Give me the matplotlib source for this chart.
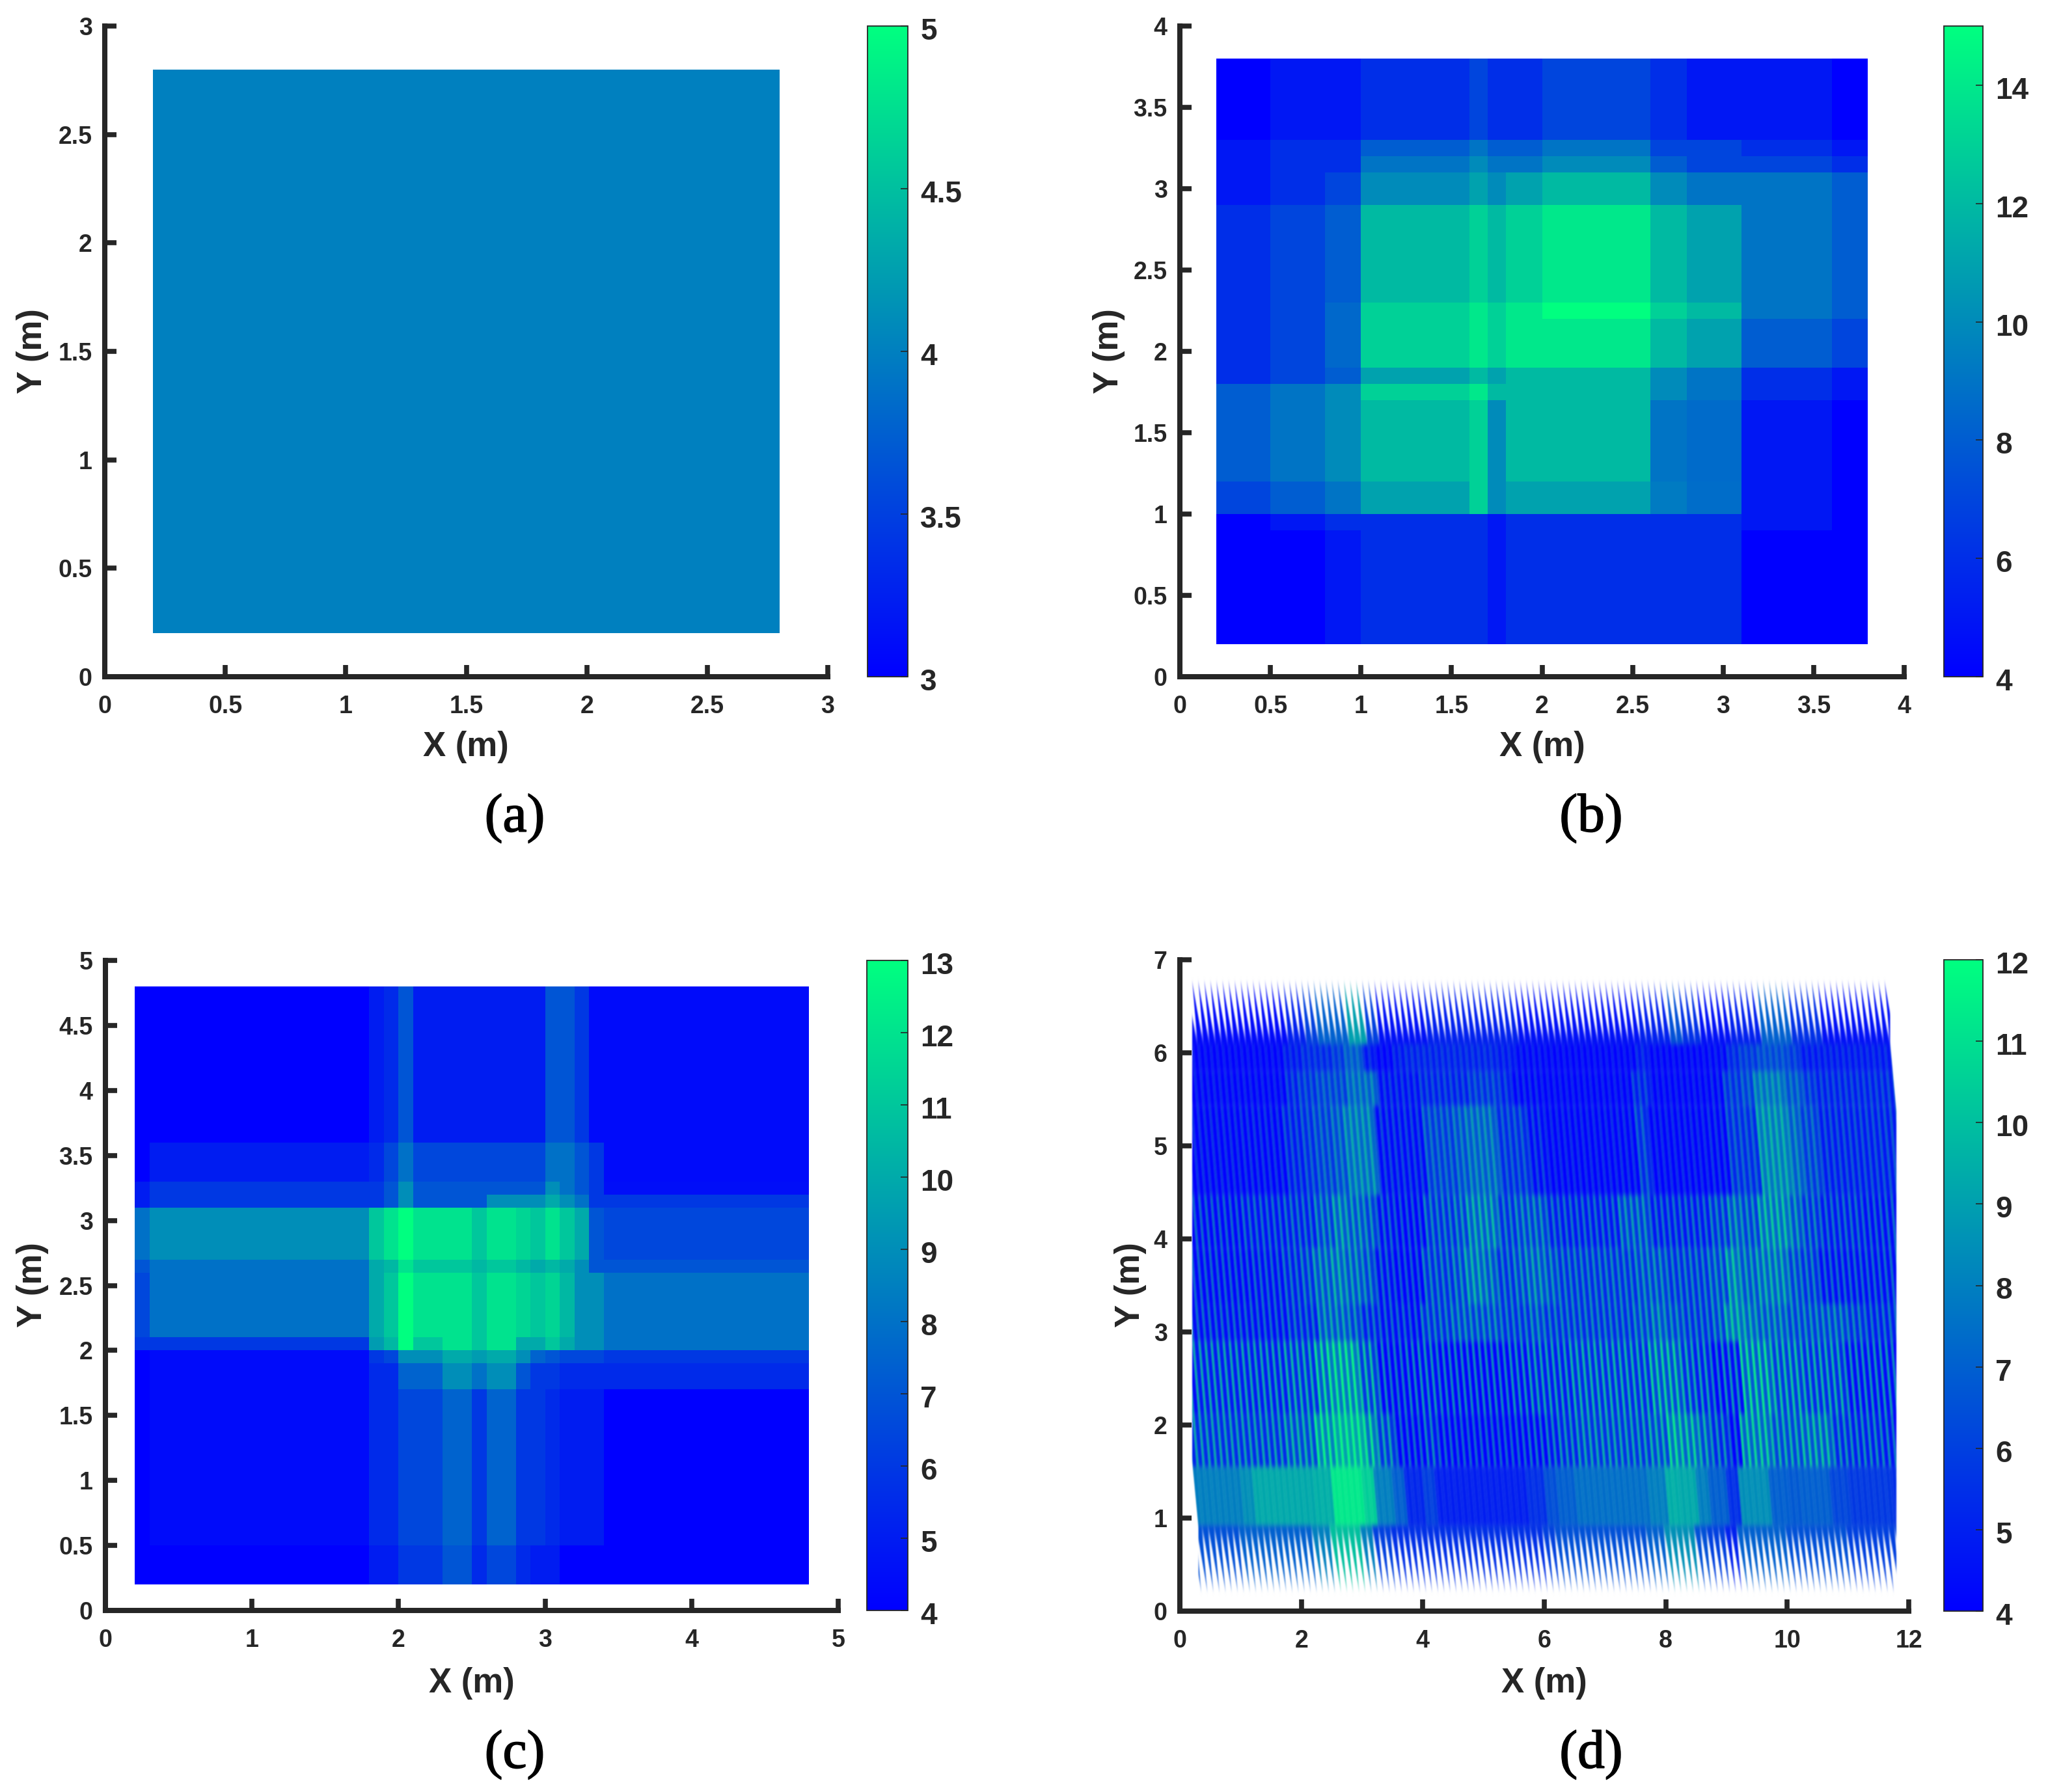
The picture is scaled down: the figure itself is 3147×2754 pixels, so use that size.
import numpy as np
import matplotlib
matplotlib.use("Agg")
import matplotlib.pyplot as plt
import matplotlib.patheffects as pe
from matplotlib.collections import PolyCollection
from matplotlib.colors import Normalize
from matplotlib.patches import Polygon
from matplotlib.transforms import ScaledTranslation

W, H = 3147, 2754
DARK = "#262626"

# panel a
a_x = [0.2, 2.8]
a_y = [0.2, 2.8]
a_val = [[4]]

# panel b, rows listed from the top down
b_x = [0.2, 0.5, 0.8, 1.0, 1.6, 1.7, 1.8, 2.0, 2.6, 2.8, 3.1, 3.6, 3.8]
b_y = [3.8, 3.3, 3.2, 3.1, 2.9, 2.3, 2.2, 1.9, 1.8, 1.7, 1.2, 1.0, 0.9, 0.2]
b_val = [
    [4, 5, 5, 6, 7, 6, 6, 7, 6, 5, 5, 4],
    [5, 6, 6, 8, 9, 8, 8, 9, 7, 7, 6, 5],
    [5, 6, 6, 9, 10, 9, 9, 10, 8, 7, 7, 6],
    [5, 6, 7, 10, 11, 10, 11, 12, 10, 9, 9, 8],
    [6, 7, 8, 12, 13, 12, 13, 14, 12, 11, 9, 8],
    [6, 7, 8.5, 13, 14, 13, 14, 15, 13, 12, 9, 8],
    [6, 7, 8.5, 13, 14, 13, 14, 14, 12, 11, 8, 7],
    [6, 7, 8, 11, 12, 11, 12, 12, 10, 9, 6, 5],
    [8, 9, 10, 13, 14, 12, 12, 12, 10, 9, 6, 5],
    [8, 9, 10, 12, 13, 10, 12, 12, 9, 8.6, 5, 4],
    [7, 8, 9, 11, 13, 10, 11, 11, 9.3, 8.7, 5, 4],
    [4, 5, 6, 6, 6, 5, 6, 6, 6, 6, 5, 4],
    [4, 4, 5, 6, 6, 5, 6, 6, 6, 6, 4, 4],
]

# panel c, rows listed from the top down
c_x = [0.2, 0.3, 1.8, 1.9, 2.0, 2.1, 2.3, 2.5, 2.6, 2.8, 2.9, 3.0, 3.1, 3.2, 3.3, 3.4, 4.8]
c_y = [4.8, 3.6, 3.3, 3.2, 3.1, 2.7, 2.6, 2.1, 2.0, 1.9, 1.7, 0.5, 0.2]
c_val = [
    [4, 4, 5, 5.5, 7, 5, 5, 5, 5, 5, 5, 7, 7, 6, 4.4, 4.4],
    [4, 5, 5.5, 6.5, 8, 6.5, 6.5, 6.5, 6.5, 6.5, 6.5, 8, 8, 7, 6, 4.4],
    [5, 6, 6, 7, 9, 7, 7, 7, 7, 7, 7, 9, 8, 7, 6, 4.5],
    [5, 6, 6, 7, 9, 7, 7, 7, 9, 9, 9, 10, 9, 8, 6, 6],
    [8, 9, 11, 12, 13, 12, 12, 11, 12, 11.5, 11, 12, 11, 10, 7, 6.5],
    [7, 8, 10, 10.5, 12, 11, 11, 10.5, 11, 10.5, 10, 10.5, 10, 9, 7, 7],
    [6.5, 8, 10, 11, 13, 12, 12, 11, 12, 11.5, 11, 11.5, 10.5, 9, 9, 8],
    [6, 6, 9.5, 10.5, 13, 11, 12, 11, 12, 10, 10, 11, 10, 9, 9, 8],
    [4, 4.4, 6, 6.5, 9, 9, 10, 9.5, 10, 9, 7.5, 7, 6.5, 6.5, 6.5, 6],
    [4, 4.4, 5.5, 5.5, 7.5, 7.5, 9, 8, 9, 7, 6, 6, 5.5, 5.5, 5.5, 5.5],
    [4, 4.4, 5.5, 5.5, 6.5, 6.5, 7.5, 6, 7.5, 6, 6, 5.5, 5, 5, 5, 4],
    [4, 4, 5, 5, 6, 6, 7, 5.5, 6.5, 5.5, 5, 5, 4, 4, 4, 4],
]

# panel d, one row per y band from the top down, one value per 0.25 m of x
d_y = [6.78, 6.09, 5.8, 5.43, 4.47, 3.9, 3.3, 2.9, 2.12, 1.55, 0.92, 0.2]
d_val = [
    [4.3, 4.3, 4.3, 4.3, 4.3, 4.3, 4.3, 5, 6, 7, 7, 9, 6, 4.5, 4.5, 4.5,
     5, 5, 5, 5, 5, 5, 4.5, 4.5, 4.5, 4.5, 4.5, 4.5, 4.5, 4.5, 5, 5,
     6.5, 5.5, 4.5, 4.5, 5, 5, 7, 7, 5.5, 5.5, 4.5, 4.5, 4.5, 4.5, 4.5, 4.5],
    [4.2, 4.2, 4.2, 4.2, 4.2, 4.2, 4.2, 5, 5.5, 5.5, 6, 7, 5, 4.2, 5, 5.3,
     5.3, 5.3, 5.3, 5.3, 5.3, 5, 4.5, 4.5, 4.2, 4.2, 4.2, 4.2, 4.2, 4.2, 5, 4.3,
     4.2, 4.2, 4.2, 4.5, 5.5, 6, 6.5, 6.5, 6, 5, 5, 5, 5, 5, 5, 5],
    [4.1, 4.1, 4.1, 4.1, 4.1, 4.1, 4.1, 5.5, 6, 6.5, 6.5, 7.5, 7.5, 5, 5, 5,
     5.5, 5.5, 5.5, 6, 6, 5.5, 4.5, 4.5, 4, 4, 4, 4, 4, 4, 5.5, 4,
     4, 4, 4, 4.5, 6, 6.5, 8, 8, 7, 6, 5.5, 5.5, 5.5, 5.5, 5.5, 5.5],
    [4.2, 4.2, 4.2, 4.3, 4.5, 4.5, 4.5, 5.5, 6, 6.5, 7, 8, 8, 5, 5, 5,
     6.5, 6.5, 7, 7.5, 7.5, 6, 6, 5, 4.1, 4.1, 4.1, 4.1, 4.1, 4.3, 6, 4.1,
     4.1, 4.1, 4.1, 4.5, 6, 6, 8.5, 8.5, 7.5, 6.5, 5.5, 5.5, 5.5, 5.5, 5.5, 5.5],
    [5.3, 5.3, 5.3, 5.3, 5.7, 5.7, 5.7, 6, 6, 7, 8, 7.5, 7, 5.5, 5, 5,
     6.5, 6.5, 7, 8, 8, 6.5, 7, 7, 6, 5.8, 5.8, 5.8, 5.8, 7, 7, 5.8,
     5.8, 5.8, 5.8, 6.5, 7.5, 7, 8.5, 8.5, 7.5, 6.5, 5.8, 5.8, 5.8, 5.5, 5.5, 5.5],
    [5.3, 5.3, 5.3, 5.3, 5.3, 5.5, 5.5, 6, 6.5, 7.5, 8, 7.5, 7, 5.5, 5, 5,
     6.5, 6.5, 7, 8, 7.5, 6.5, 7, 7.5, 7, 6.5, 6.5, 6.5, 6.5, 6.5, 7, 7,
     6.5, 6.5, 6.5, 7, 8.5, 7.5, 8, 8, 7, 6.5, 5.5, 5.5, 5.5, 5.5, 5.5, 5.5],
    [5.5, 5.5, 5.5, 5.5, 5.5, 5.5, 5.5, 6, 6, 7.5, 7.5, 7, 6, 5.5, 5.5, 5.3,
     6.5, 6.5, 7, 7, 7, 6.5, 6.5, 7, 6.5, 6.5, 6.5, 6.5, 6.5, 6.5, 7, 7.5,
     7, 6.5, 6.5, 7, 8.5, 8, 7.5, 7.5, 7, 7, 7, 7, 6.5, 6, 6, 5.5],
    [6, 6.5, 6.5, 6.5, 6.5, 6.5, 6.5, 7, 7, 8.5, 9.5, 9.5, 7.5, 5.5, 5, 5.5,
     6, 5.5, 5.5, 5.5, 5.5, 5.5, 6, 6.5, 6.5, 6.5, 7, 7, 7, 7, 7, 8,
     8, 7, 6.5, 5.5, 6, 8.5, 8.5, 7.5, 7.5, 7, 7, 7, 6, 6, 6, 5.5],
    [6.5, 6.8, 6.8, 6.8, 6.8, 6.8, 6.8, 7.5, 7.5, 9.5, 10.5, 10.5, 9, 7, 5, 5,
     6, 5, 4.8, 4.8, 4.8, 4.8, 5, 5.5, 6, 6.5, 7, 7, 7, 7, 7, 7.5,
     9, 8.5, 7.5, 6.5, 5, 8.5, 8.5, 7.5, 7.5, 8, 8, 6.5, 6.3, 6.3, 6, 5.5],
    [6.5, 8, 8, 8, 8.5, 9.3, 9.3, 9.3, 9.3, 9.5, 11.3, 11.3, 10.5, 8, 7, 5.2,
     6, 5, 5, 5, 5, 5, 5, 5.5, 6.5, 7, 7.5, 7.5, 7.5, 7.5, 7.5, 8,
     9.5, 9.3, 8, 7, 5.5, 8.5, 8.5, 7, 6.8, 7, 7, 6.2, 5.8, 5.8, 5.8, 5.5],
    [6.5, 6.5, 6.5, 6.5, 7, 7, 7, 7, 7, 8, 10, 10, 8, 6, 5.5, 5.5,
     5.5, 5.5, 5.5, 5.5, 5.5, 5.5, 5.5, 5.5, 6, 6.5, 6.5, 6.5, 6.5, 6.5, 6.5, 7,
     8.5, 8.5, 6.5, 6, 5, 7, 7, 7, 6.5, 6.5, 6.5, 6.5, 6, 6, 6, 6],
]
# how far the thin streaks sit above and below each band's value
d_streak = [0, 0.6, 1.0, 1.2, 1.8, 1.8, 1.8, 2.6, 2.2, 0.1, 0]

ticks_a = [0, 0.5, 1, 1.5, 2, 2.5, 3]
ticks_b = [0, 0.5, 1, 1.5, 2, 2.5, 3, 3.5, 4]
ticks_c = [0, 0.5, 1, 1.5, 2, 2.5, 3, 3.5, 4, 4.5, 5]
ticks_cx = [0, 1, 2, 3, 4, 5]
ticks_dx = [0, 2, 4, 6, 8, 10, 12]
ticks_dy = [0, 1, 2, 3, 4, 5, 6, 7]
cb_a = [3, 3.5, 4, 4.5, 5]
cb_b = [4, 6, 8, 10, 12, 14]
cb_c = [4, 5, 6, 7, 8, 9, 10, 11, 12, 13]
cb_d = [4, 5, 6, 7, 8, 9, 10, 11, 12]

plt.rcParams["font.family"] = ["Liberation Sans", "DejaVu Sans"]
plt.rcParams["font.weight"] = "bold"

fig = plt.figure(figsize=(W / 100, H / 100), dpi=100)


def px_axes(left, right, top, bottom):
    return fig.add_axes([left / W, 1 - bottom / H, (right - left) / W, (bottom - top) / H])


def fmt(v):
    return ("%g" % v)


def style_axes(ax, xlim, ylim, xticks, yticks):
    ax.set_xlim(xlim)
    ax.set_ylim(ylim)
    ax.set_xticks(xticks)
    ax.set_yticks(yticks)
    ax.set_xticklabels([fmt(v) for v in xticks])
    ax.set_yticklabels([fmt(v) for v in yticks])
    ax.spines["top"].set_visible(False)
    ax.spines["right"].set_visible(False)
    for side in ["left", "bottom"]:
        ax.spines[side].set_linewidth(5.8)
        ax.spines[side].set_color(DARK)
    ax.tick_params(direction="in", length=13, width=5.5, color=DARK, labelcolor=DARK, labelsize=27)
    ax.tick_params(axis="x", pad=20)
    ax.tick_params(axis="y", pad=14)


def add_colorbar(mesh, left, right, top, bottom, ticks):
    cax = px_axes(left, right, top, bottom)
    cb = fig.colorbar(mesh, cax=cax)
    cb.set_ticks(ticks)
    cb.set_ticklabels([fmt(v) for v in ticks])
    cb.outline.set_linewidth(1.3)
    cb.outline.set_edgecolor(DARK)
    cax.tick_params(direction="in", length=8, width=1.2, color=DARK, labelcolor=DARK, labelsize=33, pad=14)
    # labels sit a little under their ticks in the original
    shift = ScaledTranslation(0, -4 / 100, fig.dpi_scale_trans)
    for label in cax.get_yticklabels():
        label.set_transform(label.get_transform() + shift)


def add_text(x, y, s, **kw):
    fig.text(x / W, 1 - y / H, s, ha="center", va="center", color=DARK, **kw)


def block_panel(ax, xs, ys, vals, vmin, vmax):
    return ax.pcolormesh(xs, ys, np.array(vals), cmap="winter", vmin=vmin, vmax=vmax, shading="flat")


def soften(image, dpi):
    # the original picture is a bit blurred, mostly along the strands
    pad = 10
    img = np.pad(image, ((pad, pad), (pad, pad), (0, 0)), constant_values=0)
    img[:, :, :3] = np.where(img[:, :, 3:] > 0, img[:, :, :3], 1.0)
    out = np.zeros_like(img)
    for k, w in zip(range(-6, 7), [1, 2, 3, 5, 7, 8, 9, 8, 7, 5, 3, 2, 1]):
        out += w * np.roll(img, k, axis=0)
    out /= 61.0
    out = (np.roll(out, -1, axis=1) + 2 * out + np.roll(out, 1, axis=1)) / 4.0
    return out, -pad, -pad


# (a)
ax = px_axes(161, 1272, 40, 1040)
m = block_panel(ax, a_x, a_y, a_val, 3, 5)
style_axes(ax, (0, 3), (0, 3), ticks_a, ticks_a)
add_colorbar(m, 1333, 1395, 40, 1040, cb_a)

# (b)
ax = px_axes(1813, 2926, 40, 1040)
m = block_panel(ax, b_x, b_y, b_val, 4, 15)
style_axes(ax, (0, 4), (0, 4), ticks_b, ticks_b)
add_colorbar(m, 2987, 3047, 40, 1040, cb_b)

# (c)
ax = px_axes(162, 1288, 1476, 2475)
m = block_panel(ax, c_x, c_y, c_val, 4, 13)
style_axes(ax, (0, 5), (0, 5), ticks_cx, ticks_c)
add_colorbar(m, 1332, 1395, 1476, 2475, cb_c)

# (d) thin slanted strands with a comb at both ends
ax = px_axes(1813, 2933, 1475, 2476)
SHEAR = 0.13
PITCH = 0.1
STREAK = 0.035
XSTEP = 0.25


def slant(u, y):
    return u - SHEAR * (y - 1)


def lookup(r, u):
    xmid = slant(u + PITCH / 2, (d_y[r] + d_y[r + 1]) / 2)
    col = min(max(int(xmid / XSTEP), 0), len(d_val[r]) - 1)
    return d_val[r][col]


polys = []
vals = []
n_rows = len(d_val)
for u in np.arange(-0.249, 12.8, PITCH):
    for r in range(n_rows):
        y1, y0 = d_y[r], d_y[r + 1]
        v = lookup(r, u)
        if r == 0:
            polys.append([(slant(u, y0), y0), (slant(u + PITCH, y0), y0), (slant(u, y1), y1)])
            vals.append(v)
        elif r == n_rows - 1:
            polys.append([(slant(u, y1), y1), (slant(u + PITCH, y1), y1), (slant(u + PITCH, y0), y0)])
            vals.append(v)
        else:
            polys.append([(slant(u, y0), y0), (slant(u + STREAK, y0), y0),
                          (slant(u + STREAK, y1), y1), (slant(u, y1), y1)])
            vals.append(v + 1.2 * d_streak[r])
            polys.append([(slant(u + STREAK, y0), y0), (slant(u + PITCH, y0), y0),
                          (slant(u + PITCH, y1), y1), (slant(u + STREAK, y1), y1)])
            vals.append(max(v - 0.65 * d_streak[r], 4))

coll = PolyCollection(polys, array=np.array(vals), cmap="winter", norm=Normalize(4, 12),
                      edgecolors="face", linewidths=0.12)
ax.add_collection(coll)
clip = Polygon([(0.2, 6.8), (11.7, 6.8), (11.7, 6.09), (11.8, 5.38), (11.8, 0.2),
                (0.3, 0.2), (0.3, 0.92), (0.2, 1.6)],
               transform=ax.transData, fill=False, edgecolor="none")
ax.add_patch(clip)
coll.set_clip_path(clip)
coll.set_agg_filter(soften)
style_axes(ax, (0, 12), (0, 7), ticks_dx, ticks_dy)
add_colorbar(coll, 2987, 3047, 1475, 2476, cb_d)

# axis labels and captions
LABEL = dict(fontsize=38, fontweight="bold")
add_text(716, 1148, "X (m)", **LABEL)
add_text(2370, 1148, "X (m)", **LABEL)
add_text(725, 2587, "X (m)", **LABEL)
add_text(2373, 2587, "X (m)", **LABEL)
add_text(50, 540, "Y (m)", rotation=90, **LABEL)
add_text(1704, 540, "Y (m)", rotation=90, **LABEL)
add_text(50, 1975, "Y (m)", rotation=90, **LABEL)
add_text(1737, 1975, "Y (m)", rotation=90, **LABEL)

CAP = dict(fontsize=60, fontweight="normal", family="Liberation Serif")
for x, y, s in [(791, 1258, "(a)"), (2445, 1258, "(b)"), (791, 2697, "(c)"), (2445, 2697, "(d)")]:
    fig.text(x / W, 1 - y / H, s, ha="center", va="center", color="black",
             path_effects=[pe.withStroke(linewidth=1.2, foreground="black")], **CAP)

fig.savefig("out.png", dpi=100)
